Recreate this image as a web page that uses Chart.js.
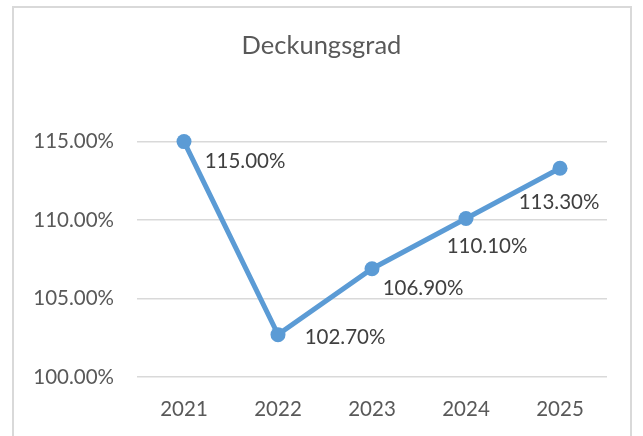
<!DOCTYPE html>
<html>
<head>
<meta charset="utf-8">
<script src="https://cdn.jsdelivr.net/npm/chart.js@4/dist/chart.umd.min.js"></script>
<style>
  html, body { margin: 0; padding: 0; background: #ffffff; }
  #wrap { width: 643px; height: 436px; position: relative; }
</style>
</head>
<body>
<div id="wrap"><canvas id="c" width="643" height="436"></canvas></div>
<script>
// ---- data ----
const years = ['2021', '2022', '2023', '2024', '2025'];
const deckungsgrad = [115.0, 102.7, 106.9, 110.1, 113.3];
const yTicks = [100, 105, 110, 115];
const chartTitle = 'Deckungsgrad';

// ---- styling ----
const FONT = 'Lato, "Open Sans", sans-serif';
const LINE_BLUE = '#5B9BD5';
// label placement relative to each point (style only)
const labelShift = [[61, 20], [67, 3], [51, 20], [21, 28], [-1, 34]];

const frame = {
  id: 'frame',
  beforeDraw(chart) {
    const ctx = chart.ctx;
    ctx.save();
    ctx.fillStyle = '#ffffff';
    ctx.fillRect(0, 0, chart.width, chart.height);
    ctx.strokeStyle = '#d9d9d9';
    ctx.lineWidth = 2;
    ctx.strokeRect(13, 7, 618, 460);
    ctx.restore();
  }
};

const valueLabels = {
  id: 'valueLabels',
  afterDatasetsDraw(chart) {
    const ctx = chart.ctx;
    const meta = chart.getDatasetMeta(0);
    ctx.save();
    ctx.font = '20.5px ' + FONT;
    ctx.fillStyle = '#404040';
    ctx.textAlign = 'center';
    ctx.textBaseline = 'middle';
    meta.data.forEach((pt, i) => {
      const v = chart.data.datasets[0].data[i];
      const s = labelShift[i];
      ctx.fillText(v.toFixed(2) + '%', pt.x + s[0], pt.y + s[1]);
    });
    ctx.restore();
  }
};

new Chart(document.getElementById('c'), {
  type: 'line',
  data: {
    labels: years,
    datasets: [{
      label: chartTitle,
      data: deckungsgrad,
      borderColor: LINE_BLUE,
      backgroundColor: LINE_BLUE,
      borderWidth: 5,
      pointRadius: 7.5,
      pointBackgroundColor: LINE_BLUE,
      pointBorderWidth: 0,
      tension: 0,
      clip: false
    }]
  },
  options: {
    responsive: false,
    animation: false,
    devicePixelRatio: 1,
    layout: { padding: { left: 0, right: 0, top: 0, bottom: 0 } },
    plugins: {
      legend: { display: false },
      tooltip: { enabled: false },
      title: {
        display: true,
        text: chartTitle,
        color: '#595959',
        font: { family: FONT, size: 25.5, weight: 'normal', lineHeight: 1.2 },
        padding: { top: 30, bottom: 81 }
      }
    },
    scales: {
      x: {
        offset: true,
        grid: { display: false, drawTicks: false },
        border: { display: false },
        ticks: {
          color: '#595959',
          font: { family: FONT, size: 20.5 },
          padding: 20,
          maxRotation: 0
        },
        afterFit(scale) { scale.height = 59; }
      },
      y: {
        min: yTicks[0],
        max: yTicks[yTicks.length - 1],
        afterBuildTicks(scale) { scale.ticks = yTicks.map(v => ({ value: v })); },
        grid: { color: '#d9d9d9', lineWidth: 1.5, drawTicks: false },
        border: { display: false },
        ticks: {
          color: '#595959',
          font: { family: FONT, size: 20.5 },
          padding: 23,
          callback: v => Number(v).toFixed(2) + '%'
        },
        afterFit(scale) { scale.width = 137; }
      },
      margin: {
        position: 'right',
        display: true,
        grid: { display: false, drawTicks: false },
        border: { display: false },
        ticks: { display: false },
        afterFit(scale) { scale.width = 36; }
      }
    }
  },
  plugins: [frame, valueLabels]
});
</script>
</body>
</html>
